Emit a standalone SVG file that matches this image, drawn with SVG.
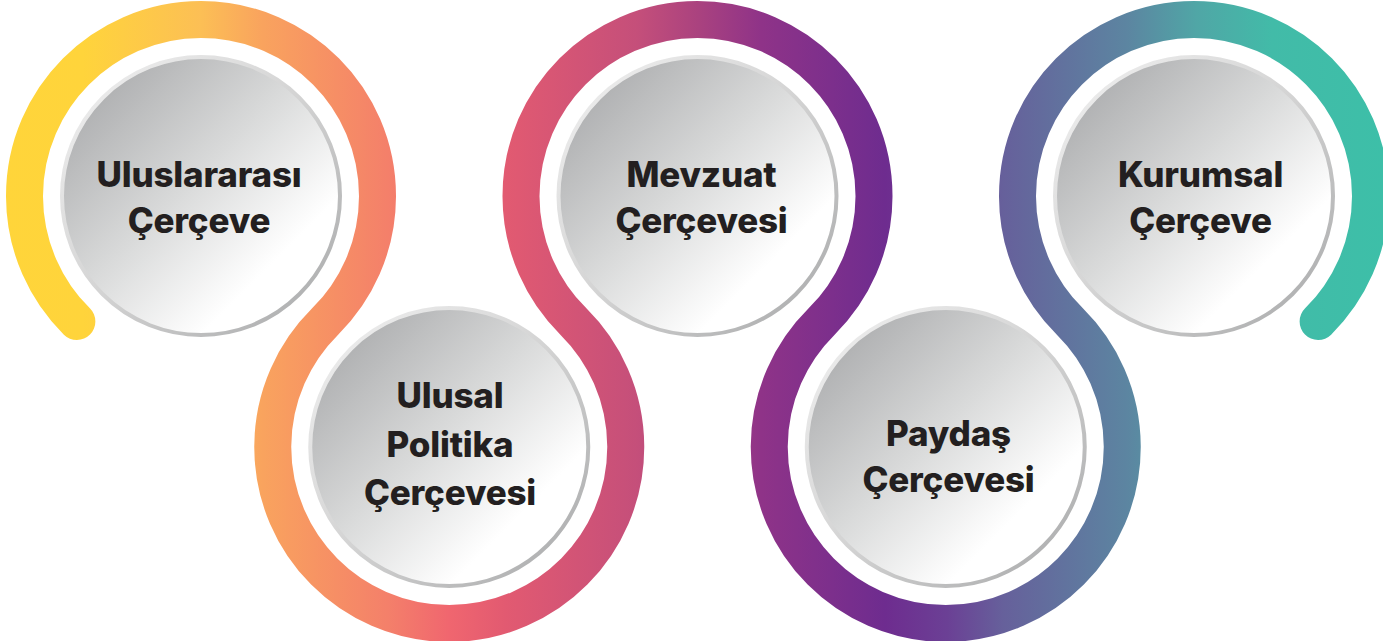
<svg xmlns="http://www.w3.org/2000/svg" width="1383" height="641" viewBox="0 0 1383 641">
<defs>
<linearGradient id="rib" gradientUnits="userSpaceOnUse" x1="0" y1="0" x2="1383" y2="0">
<stop offset="0" stop-color="#FFD53A"/>
<stop offset="0.06" stop-color="#FFD43B"/>
<stop offset="0.145" stop-color="#FCBF55"/>
<stop offset="0.19" stop-color="#F9A35E"/>
<stop offset="0.28" stop-color="#F4806A"/>
<stop offset="0.325" stop-color="#F0666F"/>
<stop offset="0.365" stop-color="#E25A71"/>
<stop offset="0.46" stop-color="#C54F7A"/>
<stop offset="0.505" stop-color="#AA427F"/>
<stop offset="0.55" stop-color="#8F3388"/>
<stop offset="0.64" stop-color="#6E2C8F"/>
<stop offset="0.685" stop-color="#6B4095"/>
<stop offset="0.725" stop-color="#66609B"/>
<stop offset="0.815" stop-color="#5C85A1"/>
<stop offset="0.865" stop-color="#50A6A6"/>
<stop offset="0.92" stop-color="#42BBA8"/>
<stop offset="1" stop-color="#3DBFA8"/>
</linearGradient>
<linearGradient id="fill" x1="0" y1="0" x2="1" y2="1">
<stop offset="0" stop-color="#9FA0A2"/>
<stop offset="0.45" stop-color="#D8D9D9"/>
<stop offset="0.75" stop-color="#FFFFFF"/>
<stop offset="1" stop-color="#FFFFFF"/>
</linearGradient>
<linearGradient id="edge" x1="0" y1="0" x2="1" y2="1">
<stop offset="0" stop-color="#F2F2F2"/>
<stop offset="0.5" stop-color="#D3D3D3"/>
<stop offset="1" stop-color="#A6A7A8"/>
</linearGradient>
<style>
.disc{fill:url(#fill);stroke:url(#edge);stroke-width:4}
.lbl{font-family:Inter,Lato,"Liberation Sans",sans-serif;font-weight:800;font-size:35px;letter-spacing:-0.2px;fill:#231F20;text-anchor:middle;font-variant-ligatures:none}
</style>
</defs>
<rect width="1383" height="641" fill="#FFFFFF"/>
<g id="connectors">
<path d="M 76.875 321.5 A 176.5 176.5 0 1 1 325.125 321.5 A 176.5 176.5 0 1 0 573.375 321.5 A 176.5 176.5 0 1 1 821.625 321.5 A 176.5 176.5 0 1 0 1069.875 321.5 A 176.5 176.5 0 1 1 1318.125 321.5" fill="none" stroke="url(#rib)" stroke-width="37" stroke-linecap="round"/>
</g>
<g id="node-uluslararasi">
<circle class="disc" cx="201" cy="196" r="139"/>
<text class="lbl" x="199" y="186.7">Uluslararası</text>
<text class="lbl" x="199" y="232.7">Çerçeve</text>
</g>
<g id="node-ulusal">
<circle class="disc" cx="449.25" cy="447" r="139"/>
<text class="lbl" x="450" y="408">Ulusal</text>
<text class="lbl" x="450" y="456.5">Politika</text>
<text class="lbl" x="450" y="505">Çerçevesi</text>
</g>
<g id="node-mevzuat">
<circle class="disc" cx="697.5" cy="196" r="139"/>
<text class="lbl" x="701.5" y="186.7">Mevzuat</text>
<text class="lbl" x="701.5" y="233">Çerçevesi</text>
</g>
<g id="node-paydas">
<circle class="disc" cx="945.75" cy="447" r="139"/>
<text class="lbl" x="948.5" y="445.7">Paydaş</text>
<text class="lbl" x="948.5" y="492.3">Çerçevesi</text>
</g>
<g id="node-kurumsal">
<circle class="disc" cx="1194" cy="196" r="139"/>
<text class="lbl" x="1200.5" y="186.7">Kurumsal</text>
<text class="lbl" x="1200.5" y="233">Çerçeve</text>
</g>
</svg>
